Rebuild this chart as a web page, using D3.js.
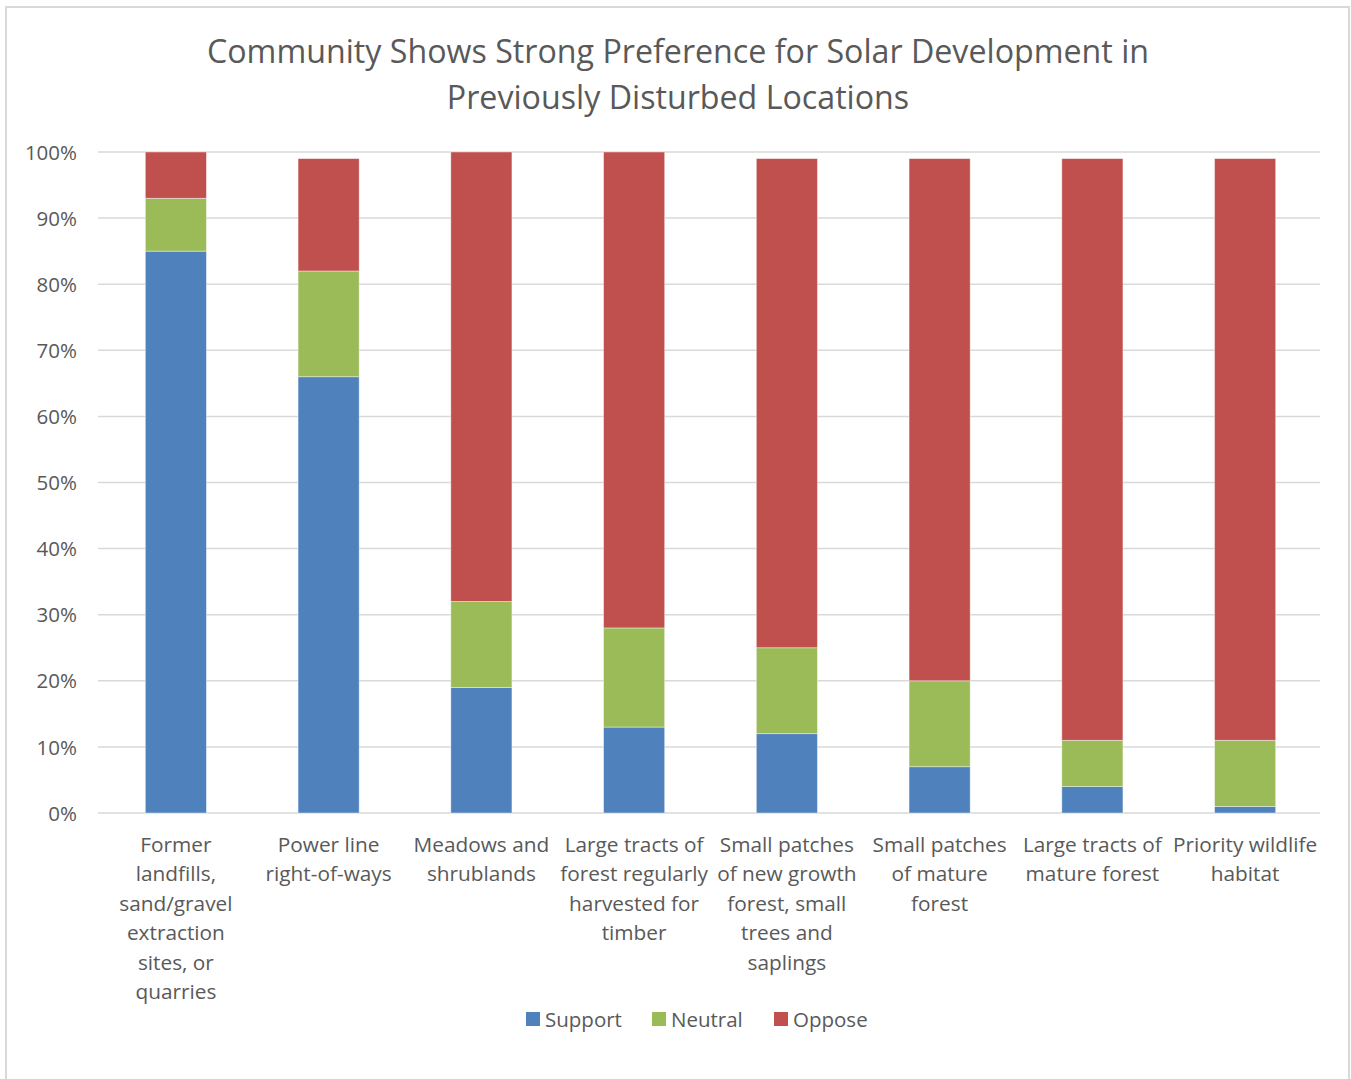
<!DOCTYPE html>
<html><head><meta charset="utf-8">
<script src="https://cdn.jsdelivr.net/npm/d3@7"></script>
<style>body{margin:0;background:#fff;} svg{display:block;}</style>
</head><body>
<script>
const categories = [
  ["Former","landfills,","sand/gravel","extraction","sites, or","quarries"],
  ["Power line","right-of-ways"],
  ["Meadows and","shrublands"],
  ["Large tracts of","forest regularly","harvested for","timber"],
  ["Small patches","of new growth","forest, small","trees and","saplings"],
  ["Small patches","of mature","forest"],
  ["Large tracts of","mature forest"],
  ["Priority wildlife","habitat"]
];
const support = [85, 66, 19, 13, 12, 7, 4, 1];
const neutral = [8, 16, 13, 15, 13, 13, 7, 10];
const oppose  = [7, 17, 68, 72, 74, 79, 88, 88];
const seriesNames = ["Support", "Neutral", "Oppose"];
const seriesColors = ["#4F81BD", "#9BBB59", "#C0504D"];
const yTicks = [0,10,20,30,40,50,60,70,80,90,100];
const titleLines = ["Community Shows Strong Preference for Solar Development in", "Previously Disturbed Locations"];

const W = 1351, H = 1079;
const font = "'Open Sans', sans-serif";
const textColor = "#595959";
const svg = d3.select("body").append("svg").attr("width", W).attr("height", H);
svg.append("rect").attr("width", W).attr("height", H).attr("fill", "#fff");
svg.append("rect").attr("x", 6).attr("y", 7).attr("width", 1343).attr("height", 1090)
  .attr("fill", "none").attr("stroke", "#d9d9d9").attr("stroke-width", 2);

const y = d3.scaleLinear().domain([0, 100]).range([813, 152]);
const x = d3.scaleBand().domain(d3.range(categories.length)).range([99.5, 1321.5]).paddingInner(0.6).paddingOuter(0.3);

// gridlines
svg.append("g").selectAll("line").data(yTicks).join("line")
  .attr("x1", 98).attr("x2", 1320)
  .attr("y1", d => y(d)).attr("y2", d => y(d))
  .attr("stroke", "#d9d9d9").attr("stroke-width", 1.5);

// y axis labels
const yAxis = d3.axisLeft(y).tickValues(yTicks).tickFormat(d => d + "%").tickSize(0).tickPadding(0);
const ya = svg.append("g").attr("transform", "translate(77,0)").call(yAxis);
ya.select(".domain").remove();
ya.selectAll("text").attr("font-family", font).attr("font-size", 20.5).attr("fill", textColor).attr("dy", "0.35em");

// stacks
const data = categories.map((c, i) => ({i, Support: support[i], Neutral: neutral[i], Oppose: oppose[i]}));
const stack = d3.stack().keys(seriesNames)(data);
svg.append("g").selectAll("g").data(stack).join("g")
  .attr("fill", (d, k) => seriesColors[k])
  .selectAll("rect").data(d => d).join("rect")
  .attr("x", d => x(d.data.i))
  .attr("width", x.bandwidth())
  .attr("y", d => y(d[1]))
  .attr("height", d => y(d[0]) - y(d[1]))
  .attr("stroke", "rgba(255,255,255,0.5)").attr("stroke-width", 0.8);

// category labels
const cl = svg.append("g");
categories.forEach((lines, i) => {
  const t = cl.append("text").attr("x", x(i) + x.bandwidth() / 2).attr("y", 852)
    .attr("text-anchor", "middle").attr("font-family", font).attr("font-size", 20.8).attr("fill", textColor);
  lines.forEach((ln, j) => t.append("tspan").attr("x", x(i) + x.bandwidth() / 2).attr("dy", j === 0 ? 0 : 29.4).text(ln));
});

// title
const tt = svg.append("text").attr("text-anchor", "middle").attr("font-family", font).attr("font-size", 32.2).attr("fill", textColor);
titleLines.forEach((ln, j) => tt.append("tspan").attr("x", 678).attr("y", 63 + j * 45.5).text(ln));

// legend
const legX = [526, 652, 774];
const lg = svg.append("g");
seriesNames.forEach((s, k) => {
  lg.append("rect").attr("x", legX[k]).attr("y", 1012).attr("width", 14).attr("height", 14).attr("fill", seriesColors[k]);
  lg.append("text").attr("x", legX[k] + 19).attr("y", 1026.5).attr("font-family", font).attr("font-size", 20.5).attr("fill", textColor).text(s);
});
</script>
</body></html>
